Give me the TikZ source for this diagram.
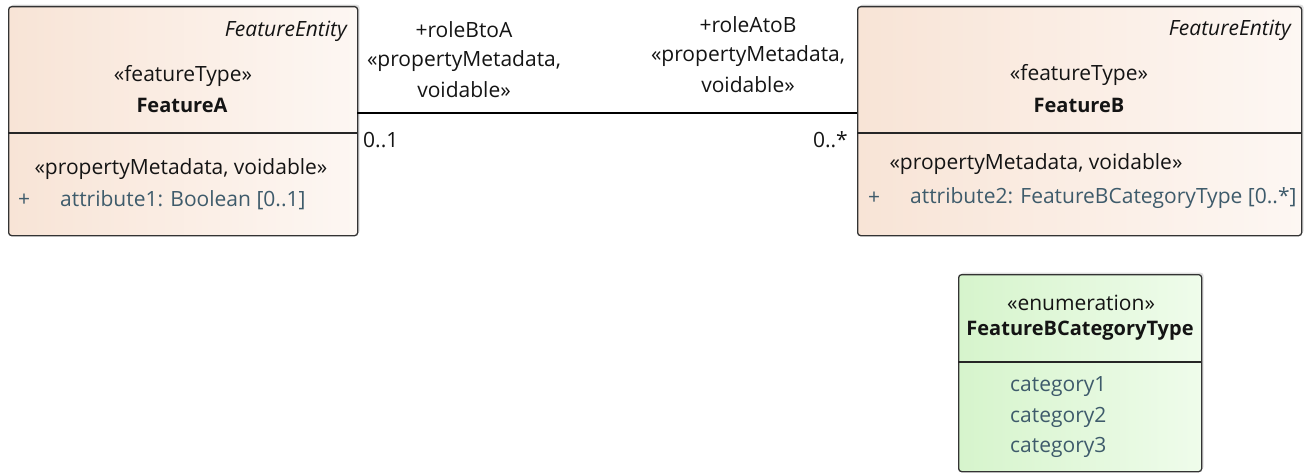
\documentclass[tikz,border=0pt]{standalone}
\usepackage{fontspec}
\setmainfont{Open Sans}
\usetikzlibrary{shadows}
\definecolor{peachL}{HTML}{F8E4D6}
\definecolor{peachR}{HTML}{FDF7F3}
\definecolor{greenL}{HTML}{D6F4CC}
\definecolor{greenR}{HTML}{EFFCEB}
\definecolor{attrcol}{HTML}{3E5B6B}
\definecolor{txtcol}{HTML}{141414}
\tikzset{
  umlbox/.style={draw=black!80, line width=1.3pt, rounded corners=3pt, anchor=north west,
    drop shadow={shadow xshift=2pt, shadow yshift=2pt, opacity=0.25}},
  featbox/.style={umlbox, left color=peachL, right color=peachR},
  enumbox/.style={umlbox, left color=greenL, right color=greenR},
  txt/.style={font=\fontsize{21}{24}\selectfont, text=txtcol, inner sep=0pt},
  bold/.style={txt, font=\fontsize{20}{24}\selectfont\bfseries},
  ital/.style={txt, anchor=east, font=\fontsize{21}{24}\selectfont\itshape},
  attr/.style={txt, text=attrcol, anchor=west},
  divider/.style={draw=black!85, line width=1.3pt},
  assoc/.style={draw=black, line width=1.3pt},
}
\begin{document}
\begin{tikzpicture}[x=1pt,y=-1pt]
\useasboundingbox (0,0) rectangle (1304,476);
% boxes
\node[featbox, minimum width=349pt, minimum height=229pt] (A) at (8,6) {};
\node[featbox, minimum width=444pt, minimum height=229pt] (B) at (857,6) {};
\node[enumbox, minimum width=243pt, minimum height=197pt] (E) at (958,274) {};
% dividers
\coordinate (A1) at (8,133); \coordinate (A2) at (357,133);
\coordinate (B1) at (857,133); \coordinate (B2) at (1301,133);
\coordinate (E1) at (958,362); \coordinate (E2) at (1201,362);
\draw[divider] (A1) -- (A2);
\draw[divider] (B1) -- (B2);
\draw[divider] (E1) -- (E2);
% Feature A texts
\node[ital] (Ae) at (347,31) {FeatureEntity};
\node[txt] (As) at (183,76) {«featureType»};
\node[bold] (An) at (182,105) {FeatureA};
\node[txt] (Ap) at (181,169) {«propertyMetadata, voidable»};
\node[attr] (Aplus) at (18,200) {+};
\node[attr] (Aa) at (60,200) {attribute1: Boolean [0..1]};
% Feature B texts
\node[ital] (Be) at (1291,30) {FeatureEntity};
\node[txt] (Bs) at (1079,75) {«featureType»};
\node[bold] (Bn) at (1079,105) {FeatureB};
\node[txt] (Bp) at (1036,164) {«propertyMetadata, voidable»};
\node[attr] (Bplus) at (868,198) {+};
\node[attr] (Ba) at (910,198) {attribute2: FeatureBCategoryType [0..*]};
% enumeration texts
\node[txt] (Es) at (1081,303) {«enumeration»};
\node[bold] (En) at (1080,331) {FeatureBCategoryType};
\node[attr] (E1t) at (1010,387) {category1};
\node[attr] (E2t) at (1010,417) {category2};
\node[attr] (E3t) at (1010,447) {category3};
% association
\coordinate (La) at (357,113); \coordinate (Lb) at (857,113);
\draw[assoc] (La) -- (Lb);
\node[txt] (r1a) at (464,30) {+roleBtoA};
\node[txt] (r1b) at (464,61) {«propertyMetadata,};
\node[txt] (r1c) at (464,90) {voidable»};
\node[txt] (r2a) at (748,25) {+roleAtoB};
\node[txt] (r2b) at (748,56) {«propertyMetadata,};
\node[txt] (r2c) at (748,85) {voidable»};
\node[txt, anchor=west] (m1) at (363,140) {0..1};
\node[txt, anchor=east] (m2) at (848,140) {0..*};
\end{tikzpicture}
\end{document}
